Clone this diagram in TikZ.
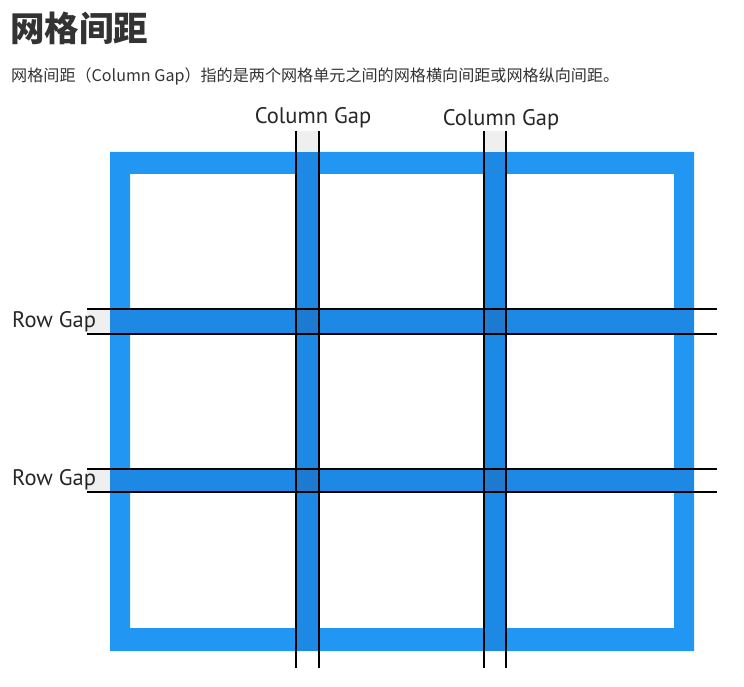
\documentclass[tikz,border=0pt]{standalone}
\usepackage{fontspec}
\setmainfont{PT Sans}
\newfontfamily\cjk{Noto Sans CJK SC}
\definecolor{frameblue}{HTML}{2196F3}
\definecolor{gapblue}{HTML}{1E88E5}
\definecolor{crossblue}{HTML}{1C7AD0}
\definecolor{gapgray}{HTML}{EFEFEF}
\definecolor{textgray}{HTML}{333333}
\begin{document}
\begin{tikzpicture}[x=1pt,y=-1pt,
  gapline/.style={black, line width=2.3pt},
  gaplabel/.style={inner sep=0pt, text=black!85, font=\fontsize{22.5}{22.5}\selectfont}]
\useasboundingbox (0,0) rectangle (744,687);
\node[anchor=west, inner sep=0pt, text=textgray, font=\cjk\bfseries\fontsize{34.5}{34.5}\selectfont] (title) at (10,28){网格间距};
\node[anchor=west, inner sep=0pt, text=textgray, font=\cjk\fontsize{16.1}{16.1}\selectfont] (intro) at (11,76){网格间距（Column Gap）指的是两个网格单元之间的网格横向间距或网格纵向间距。};
% frame
\fill[frameblue, even odd rule] (110,152) rectangle (694,651) (130,174) rectangle (674,628);
% gaps
\fill[gapgray] (296,131) rectangle (319,152);
\fill[gapgray] (484,131) rectangle (506,152);
\fill[gapgray] (87,309) rectangle (110,334);
\fill[gapgray] (87,469) rectangle (110,492);
\fill[gapblue] (296,152) rectangle (319,651);
\fill[gapblue] (484,152) rectangle (506,651);
\fill[gapblue] (110,309) rectangle (694,334);
\fill[gapblue] (110,469) rectangle (694,492);
\fill[crossblue] (296,309) rectangle (319,334);
\fill[crossblue] (484,309) rectangle (506,334);
\fill[crossblue] (296,469) rectangle (319,492);
\fill[crossblue] (484,469) rectangle (506,492);
% gap lines
\coordinate (c1a) at (296,131); \coordinate (c1b) at (296,668);
\coordinate (c2a) at (319,131); \coordinate (c2b) at (319,668);
\coordinate (c3a) at (484,131); \coordinate (c3b) at (484,668);
\coordinate (c4a) at (506,131); \coordinate (c4b) at (506,668);
\coordinate (r1a) at (87,309); \coordinate (r1b) at (717,309);
\coordinate (r2a) at (87,334); \coordinate (r2b) at (717,334);
\coordinate (r3a) at (87,469); \coordinate (r3b) at (717,469);
\coordinate (r4a) at (87,492); \coordinate (r4b) at (717,492);
\draw[gapline] (c1a) -- (c1b);
\draw[gapline] (c2a) -- (c2b);
\draw[gapline] (c3a) -- (c3b);
\draw[gapline] (c4a) -- (c4b);
\draw[gapline] (r1a) -- (r1b);
\draw[gapline] (r2a) -- (r2b);
\draw[gapline] (r3a) -- (r3b);
\draw[gapline] (r4a) -- (r4b);
% labels
\node[gaplabel] (colgap1) at (313,118){Column Gap};
\node[gaplabel] (colgap2) at (501,120){Column Gap};
\node[gaplabel, anchor=west] (rowgap1) at (12,322){Row Gap};
\node[gaplabel, anchor=west] (rowgap2) at (12,480){Row Gap};
\end{tikzpicture}
\end{document}
